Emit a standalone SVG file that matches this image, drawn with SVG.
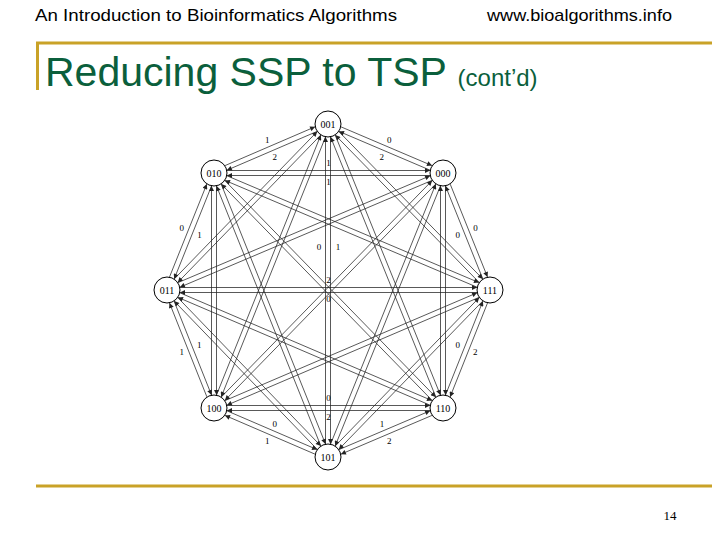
<svg xmlns="http://www.w3.org/2000/svg" width="720" height="540" viewBox="0 0 720 540">
<style>
.hd{font-family:"Liberation Sans",Arial,sans-serif;font-size:17px;fill:#000}
.tt{font-family:"Liberation Sans",Arial,sans-serif;fill:#0b5f3c}
.e line{stroke:#222;stroke-width:0.75;marker-start:url(#ah)}
.n circle{fill:#fff;stroke:#000;stroke-width:1}
.n text,.w{font-family:"Liberation Serif","Times New Roman",serif;font-size:10px;text-anchor:middle;fill:#000}
.w{font-size:9px}
</style>
<defs>
<marker id="ah" viewBox="0 0 10 10" refX="10" refY="5" markerWidth="7" markerHeight="5" markerUnits="userSpaceOnUse" orient="auto-start-reverse"><path d="M0,0L10,5L0,10z" fill="#222"/></marker>
</defs>
<rect width="720" height="540" fill="#fff"/>
<text class="hd" x="35" y="21" textLength="362" lengthAdjust="spacingAndGlyphs">An Introduction to Bioinformatics Algorithms</text>
<text class="hd" x="487" y="21" textLength="185" lengthAdjust="spacingAndGlyphs">www.bioalgorithms.info</text>
<path d="M36,43H712M37.5,43V90M36,486H712" stroke="#c9a227" stroke-width="3" fill="none"/>
<text class="tt" x="45" y="86" font-size="41">Reducing SSP to TSP <tspan font-size="24">(cont’d)</tspan></text>
<text x="670" y="520" font-family="Liberation Serif,serif" font-size="13" text-anchor="middle">14</text>
<g id="connectors" class="e">
<line x1="339.0" y1="131.4" x2="430.1" y2="170.2"/><line x1="432.0" y1="165.6" x2="340.9" y2="126.8"/>
<line x1="335.3" y1="135.1" x2="479.1" y2="282.4"/><line x1="482.7" y1="278.9" x2="338.9" y2="131.6"/>
<line x1="330.6" y1="137.0" x2="435.8" y2="396.9"/><line x1="440.4" y1="395.0" x2="335.2" y2="135.1"/>
<line x1="325.5" y1="137" x2="325.5" y2="444"/><line x1="330.5" y1="444" x2="330.5" y2="137"/>
<line x1="320.8" y1="135.1" x2="216.5" y2="395.0"/><line x1="221.2" y1="396.9" x2="325.5" y2="137.0"/>
<line x1="317.2" y1="131.6" x2="174.3" y2="278.9"/><line x1="177.8" y1="282.4" x2="320.7" y2="135.1"/>
<line x1="315.1" y1="126.8" x2="225.0" y2="165.6"/><line x1="226.9" y1="170.2" x2="317.1" y2="131.4"/>
<line x1="445.5" y1="186.0" x2="482.8" y2="278.9"/><line x1="487.5" y1="277.0" x2="450.2" y2="184.1"/>
<line x1="440.5" y1="186" x2="440.5" y2="395"/><line x1="445.5" y1="395" x2="445.5" y2="186"/>
<line x1="435.8" y1="184.1" x2="330.6" y2="444.0"/><line x1="335.2" y1="445.9" x2="440.4" y2="186.0"/>
<line x1="432.1" y1="180.6" x2="221.3" y2="397.0"/><line x1="224.9" y1="400.4" x2="435.7" y2="184.1"/>
<line x1="430.1" y1="175.8" x2="178.0" y2="282.6"/><line x1="179.9" y1="287.2" x2="432.0" y2="180.4"/>
<line x1="430" y1="170.5" x2="227" y2="170.5"/><line x1="227" y1="175.5" x2="430" y2="175.5"/>
<line x1="482.9" y1="301.2" x2="445.5" y2="395.0"/><line x1="450.1" y1="396.9" x2="487.5" y2="303.0"/>
<line x1="479.2" y1="297.6" x2="335.3" y2="445.9"/><line x1="338.8" y1="449.4" x2="482.7" y2="301.1"/>
<line x1="477.1" y1="292.8" x2="225.0" y2="400.6"/><line x1="226.9" y1="405.2" x2="479.0" y2="297.4"/>
<line x1="477" y1="287.5" x2="180" y2="287.5"/><line x1="180" y1="292.5" x2="477" y2="292.5"/>
<line x1="479.0" y1="282.6" x2="227.0" y2="175.8"/><line x1="225.0" y1="180.4" x2="477.1" y2="287.2"/>
<line x1="430.1" y1="410.8" x2="339.0" y2="449.6"/><line x1="340.9" y1="454.2" x2="432.0" y2="415.4"/>
<line x1="430" y1="405.5" x2="227" y2="405.5"/><line x1="227" y1="410.5" x2="430" y2="410.5"/>
<line x1="432.0" y1="400.6" x2="179.9" y2="292.8"/><line x1="178.0" y1="297.4" x2="430.1" y2="405.2"/>
<line x1="435.7" y1="397.0" x2="224.9" y2="180.6"/><line x1="221.3" y1="184.1" x2="432.1" y2="400.4"/>
<line x1="317.1" y1="449.6" x2="226.9" y2="410.8"/><line x1="225.0" y1="415.4" x2="315.1" y2="454.2"/>
<line x1="320.8" y1="445.9" x2="177.8" y2="297.6"/><line x1="174.2" y1="301.1" x2="317.2" y2="449.4"/>
<line x1="325.5" y1="444.0" x2="221.2" y2="184.1"/><line x1="216.5" y1="186.0" x2="320.8" y2="445.9"/>
<line x1="211.5" y1="395.0" x2="174.1" y2="301.2"/><line x1="169.5" y1="303.0" x2="206.9" y2="396.9"/>
<line x1="216.5" y1="395" x2="216.5" y2="186"/><line x1="211.5" y1="186" x2="211.5" y2="395"/>
<line x1="174.2" y1="278.9" x2="211.5" y2="186.0"/><line x1="206.8" y1="184.1" x2="169.5" y2="277.0"/>
</g>
<g id="weights">
<text class="w" x="381.8" y="160">2</text><text class="w" x="389.2" y="143">0</text>
<text class="w" x="267.3" y="143">1</text><text class="w" x="274.8" y="160">2</text>
<text class="w" x="457.7" y="238">0</text><text class="w" x="475.4" y="231">0</text>
<text class="w" x="457.7" y="348">0</text><text class="w" x="475.3" y="355">2</text>
<text class="w" x="381.9" y="427">1</text><text class="w" x="389.2" y="444">2</text>
<text class="w" x="274.8" y="427">0</text><text class="w" x="267.3" y="444">1</text>
<text class="w" x="199.3" y="348">1</text><text class="w" x="181.7" y="355">1</text>
<text class="w" x="199.4" y="238">1</text><text class="w" x="181.7" y="231">0</text>
<text class="w" x="328.5" y="166">1</text><text class="w" x="328.5" y="185">1</text>
<text class="w" x="328.5" y="401">0</text><text class="w" x="328.5" y="420">2</text>
<text class="w" x="319" y="250">0</text><text class="w" x="338" y="250">1</text>
<text class="w" x="328.5" y="283">2</text><text class="w" x="328.5" y="302">0</text>
</g>
<g id="n001" class="n"><circle cx="328" cy="124" r="13"/><text x="328" y="127.5">001</text></g>
<g id="n000" class="n"><circle cx="443" cy="173" r="13"/><text x="443" y="176.5">000</text></g>
<g id="n111" class="n"><circle cx="490" cy="290" r="13"/><text x="490" y="293.5">111</text></g>
<g id="n110" class="n"><circle cx="443" cy="408" r="13"/><text x="443" y="411.5">110</text></g>
<g id="n101" class="n"><circle cx="328" cy="457" r="13"/><text x="328" y="460.5">101</text></g>
<g id="n100" class="n"><circle cx="214" cy="408" r="13"/><text x="214" y="411.5">100</text></g>
<g id="n011" class="n"><circle cx="167" cy="290" r="13"/><text x="167" y="293.5">011</text></g>
<g id="n010" class="n"><circle cx="214" cy="173" r="13"/><text x="214" y="176.5">010</text></g>
</svg>
